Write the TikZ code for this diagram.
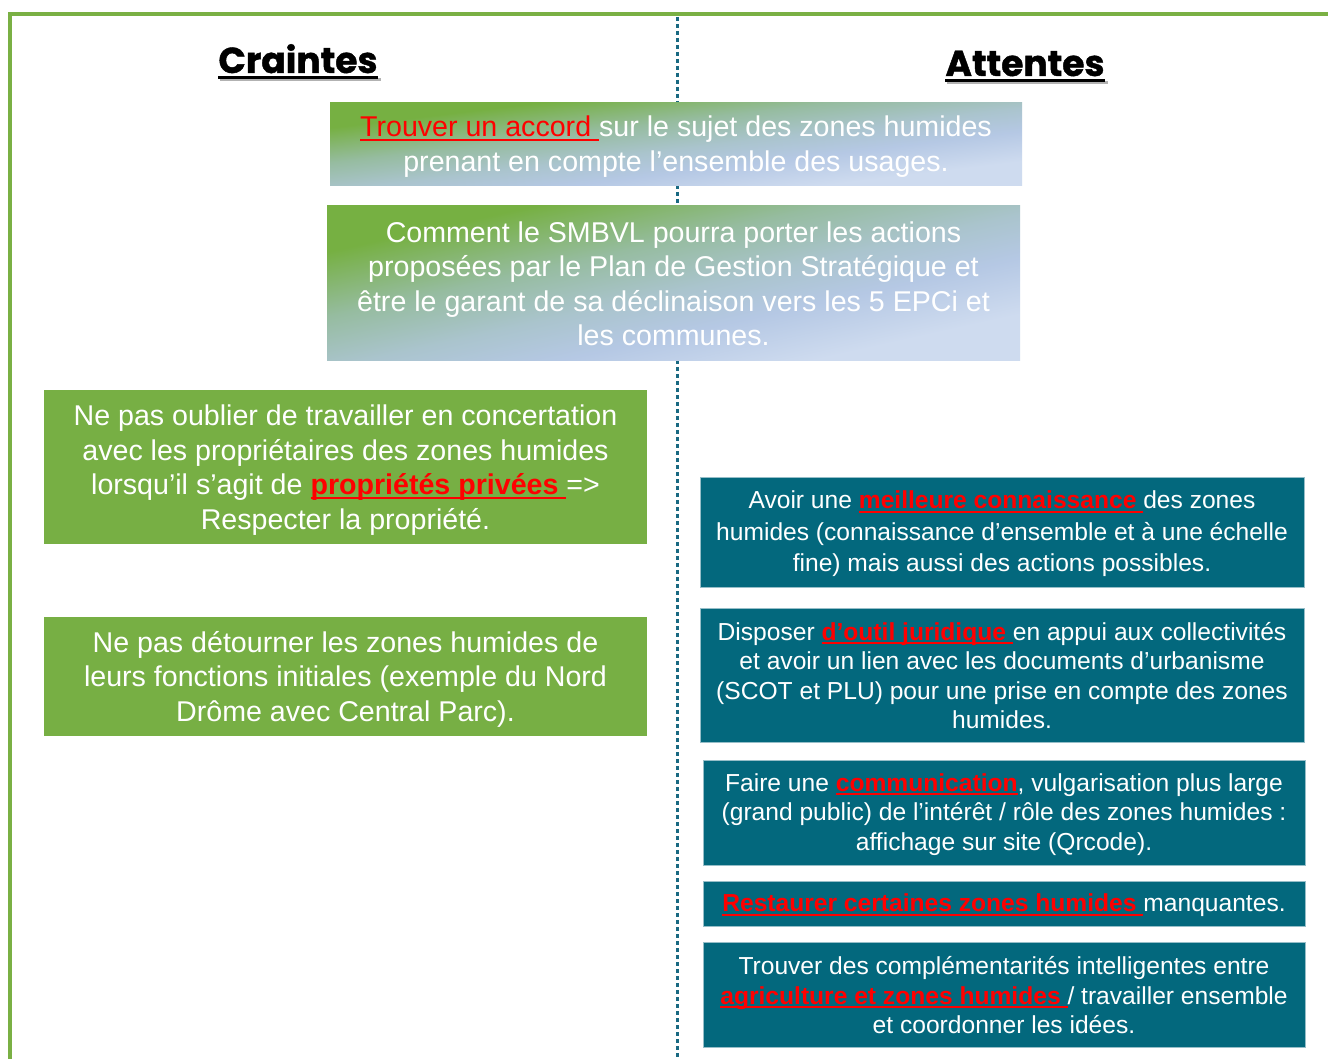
\documentclass[tikz,border=0pt]{standalone}
\usepackage{fontspec}
\setmainfont{Liberation Sans}
\newfontfamily\hdrfont{Poppins}[BoldFeatures={FakeBold=1.2}]
\definecolor{framegreen}{RGB}{122,176,68}
\definecolor{boxgreen}{RGB}{119,175,68}
\definecolor{tealbox}{RGB}{3,104,125}
\definecolor{tealedge}{RGB}{150,190,200}
\definecolor{dotteal}{RGB}{25,105,130}
\definecolor{gradA}{RGB}{118,176,66}
\definecolor{gradB}{RGB}{150,188,160}
\definecolor{gradC}{RGB}{170,196,205}
\definecolor{gradD}{RGB}{181,200,228}
\definecolor{gradE}{RGB}{206,219,239}
\pgfdeclarehorizontalshading{diaggrad}{100bp}{color(0bp)=(gradA); color(25bp)=(gradA); color(40bp)=(gradB); color(52bp)=(gradC); color(62bp)=(gradD); color(75bp)=(gradE); color(100bp)=(gradE)}
\newcommand\ulbox[3]{\setbox0\hbox{#1}\rlap{\rule[-#2]{\wd0}{#3}}\box0}
\newcommand\redul[1]{\textcolor{red}{\ulbox{#1}{4pt}{1.6pt}}}
\newcommand\redem[1]{\textcolor{red}{\bfseries\ulbox{#1}{4pt}{2pt}}}
\tikzset{
  every node/.style={inner sep=0pt, outer sep=0pt},
  hdr/.style={font=\hdrfont\bfseries\fontsize{36}{42}\selectfont, text=black},
  hdrline/.style={line width=3pt, black},
  hdrshadow/.style={line width=3pt, black!30},
  gradshade/.style={shading=diaggrad, shading angle=-45},
  greenbox/.style={fill=boxgreen},
  tealnode/.style={fill=tealbox, draw=tealedge, line width=1pt},
  bigtext/.style={text=white, align=center, font=\fontsize{28.6}{34.5}\selectfont},
  smalltext/.style={text=white, align=center, font=\fontsize{24.6}{29.5}\selectfont},
}
\begin{document}
\begin{tikzpicture}[x=1pt,y=-1pt]
\useasboundingbox (0,0) rectangle (1328,1059);
\fill[white] (0,0) rectangle (1328,1059);
% frame
\coordinate (fb) at (10,1059);
\coordinate (fc) at (10,14);
\coordinate (fr) at (1328,14);
\draw[framegreen, line width=4pt] (fb) -- (fc) -- (fr);
% divider
\coordinate (dt) at (677,17);
\coordinate (db) at (677,1059);
\draw[dotteal, line width=3pt, dash pattern=on 4pt off 3pt] (dt) -- (db);
% headers
\node[hdr, anchor=base] (craintes) at (298,73) {Craintes};
\node[hdr, anchor=base] (attentes) at (1025,76) {Attentes};
\draw[hdrshadow] ([xshift=2,yshift=-7]craintes.base west) -- ([xshift=3,yshift=-7]craintes.base east);
\draw[hdrline] ([yshift=-5]craintes.base west) -- ([yshift=-5]craintes.base east);
\draw[hdrshadow] ([xshift=2,yshift=-7]attentes.base west) -- ([xshift=3,yshift=-7]attentes.base east);
\draw[hdrline] ([yshift=-5]attentes.base west) -- ([yshift=-5]attentes.base east);
% top boxes (diagonal gradient stretched to each box)
\node[minimum width=692, minimum height=83] (accord) at (676,144.5) {};
\begin{scope}[transform canvas={shift={(accord.center)}, xscale=6.92, yscale=0.83}]
  \shade[gradshade] (-50pt,-50pt) rectangle (50pt,50pt);
\end{scope}
\node[bigtext] (accord-t) at (676,146.5) {\redul{Trouver un accord }sur le sujet des zones humides\\prenant en compte l’ensemble des usages.};
\node[minimum width=693, minimum height=154] (smbvl) at (673.5,283) {};
\begin{scope}[transform canvas={shift={(smbvl.center)}, xscale=6.93, yscale=1.54}]
  \shade[gradshade] (-50pt,-50pt) rectangle (50pt,50pt);
\end{scope}
\node[bigtext] (smbvl-t) at (673.5,284) {Comment le SMBVL pourra porter les actions\\proposées par le Plan de Gestion Stratégique et\\être le garant de sa déclinaison vers les 5 EPCi et\\les communes.};
% left boxes
\node[greenbox, minimum width=603, minimum height=154] (concert) at (345.5,467) {};
\node[bigtext] (concert-t) at (345.5,470) {Ne pas oublier de travailler en concertation\\avec les propriétaires des zones humides\\lorsqu’il s’agit de \redem{propriétés privées }=>\\Respecter la propriété.};
\node[greenbox, minimum width=603, minimum height=119] (detour) at (345.5,676.5) {};
\node[bigtext] (detour-t) at (345.5,679) {Ne pas détourner les zones humides de\\leurs fonctions initiales (exemple du Nord\\Drôme avec Central Parc).};
% right boxes
\node[tealnode, minimum width=604, minimum height=110] (connais) at (1002,532) {};
\node[smalltext, font=\fontsize{24.6}{31.5}\selectfont] (connais-t) at (1002,534) {Avoir une \redem{meilleure connaissance }des zones\\humides (connaissance d’ensemble et à une échelle\\fine) mais aussi des actions possibles.};
\node[tealnode, minimum width=604, minimum height=134] (outil) at (1002,675) {};
\node[smalltext] (outil-t) at (1002,675.5) {Disposer \redem{d’outil juridique }en appui aux collectivités\\et avoir un lien avec les documents d’urbanisme\\(SCOT et PLU) pour une prise en compte des zones\\humides.};
\node[tealnode, minimum width=602, minimum height=105] (comm) at (1004,812.5) {};
\node[smalltext] (comm-t) at (1004,814.5) {Faire une \redem{communication},  vulgarisation plus large\\(grand public) de l’intérêt / rôle des zones humides :\\affichage sur site (Qrcode).};
\node[tealnode, minimum width=602, minimum height=45] (restaur) at (1004,903.5) {};
\node[smalltext] (restaur-t) at (1004,905.5) {\redem{Restaurer certaines zones humides }manquantes.};
\node[tealnode, minimum width=602, minimum height=105] (agri) at (1004,994.5) {};
\node[smalltext] (agri-t) at (1004,995.5) {Trouver des complémentarités intelligentes entre\\\redem{agriculture et zones humides }/ travailler ensemble\\et coordonner les idées.};
\end{tikzpicture}
\end{document}
